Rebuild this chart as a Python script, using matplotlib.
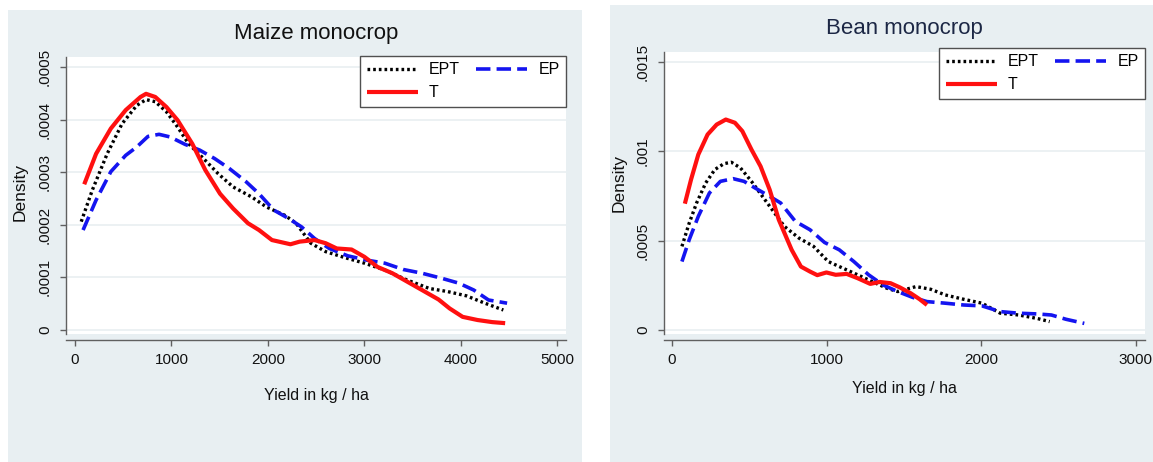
import matplotlib
matplotlib.use("Agg")
import matplotlib.pyplot as plt
import matplotlib.patches as mpatches

plt.rcParams["font.family"] = ["Liberation Sans", "DejaVu Sans"]

# ── Maize monocrop (yield kg/ha, density) ───────────────────────────────────
maize_t_x = [96, 219, 372, 526, 680, 737, 833, 948, 1064, 1217, 1352, 1505,
             1640, 1794, 1909, 2043, 2235, 2331, 2485, 2600, 2715, 2869, 3003,
             3137, 3291, 3445, 3599, 3771, 3886, 4021, 4175, 4328, 4462]
maize_t_y = [2.77, 3.35, 3.83, 4.18, 4.43, 4.49, 4.43, 4.24, 3.99, 3.54, 3.04,
             2.59, 2.31, 2.03, 1.90, 1.71, 1.63, 1.68, 1.71, 1.65, 1.55, 1.53,
             1.39, 1.20, 1.08, 0.92, 0.76, 0.58, 0.41, 0.25, 0.19, 0.15, 0.13]
maize_ept_x = [65, 180, 334, 488, 641, 737, 833, 948, 1064, 1179, 1333, 1486,
               1640, 1832, 1985, 2177, 2293, 2446, 2600, 2792, 3003, 3214, 3445,
               3675, 3867, 4059, 4251, 4443]
maize_ept_y = [2.06, 2.66, 3.35, 3.92, 4.27, 4.38, 4.34, 4.15, 3.86, 3.54, 3.26,
               2.97, 2.72, 2.53, 2.34, 2.18, 2.03, 1.65, 1.49, 1.38, 1.27, 1.14,
               0.95, 0.79, 0.73, 0.65, 0.51, 0.38]
maize_ep_x = [84, 219, 372, 526, 641, 757, 872, 987, 1141, 1294, 1448, 1601,
              1774, 1909, 2062, 2216, 2350, 2485, 2638, 2830, 3022, 3214, 3406,
              3598, 3810, 3982, 4136, 4290, 4482]
maize_ep_y = [1.90, 2.47, 3.01, 3.32, 3.48, 3.68, 3.72, 3.67, 3.53, 3.42, 3.26,
              3.07, 2.82, 2.59, 2.28, 2.12, 1.96, 1.74, 1.55, 1.41, 1.33, 1.27,
              1.15, 1.08, 0.98, 0.89, 0.76, 0.57, 0.51]

# ── Bean monocrop ───────────────────────────────────────────────────────────
bean_t_x = [83, 123, 170, 230, 289, 348, 407, 455, 514, 573, 632, 691, 774,
            834, 893, 940, 999, 1059, 1130, 1201, 1283, 1343, 1414, 1473, 1544,
            1603, 1650]
bean_t_y = [7.07, 8.42, 9.82, 10.94, 11.50, 11.78, 11.60, 11.13, 10.10, 9.16,
            7.85, 6.17, 4.49, 3.55, 3.27, 3.07, 3.22, 3.09, 3.14, 2.90, 2.58,
            2.69, 2.62, 2.39, 2.06, 1.72, 1.40]
bean_ept_x = [64, 111, 159, 218, 277, 336, 384, 443, 514, 585, 656, 727, 822,
              916, 1011, 1106, 1201, 1295, 1390, 1461, 1579, 1674, 1769, 1887,
              2006, 2124, 2243, 2361, 2444]
bean_ept_y = [4.68, 5.98, 7.11, 8.23, 8.98, 9.31, 9.39, 9.07, 8.32, 7.48, 6.64,
              5.80, 5.14, 4.68, 3.83, 3.46, 3.09, 2.71, 2.34, 2.15, 2.43, 2.28,
              1.96, 1.72, 1.50, 0.94, 0.84, 0.65, 0.47]
bean_ep_x = [64, 111, 170, 242, 313, 395, 466, 537, 632, 703, 798, 893, 987,
             1082, 1177, 1272, 1366, 1461, 1556, 1650, 1769, 1887, 2006, 2124,
             2243, 2361, 2455, 2550, 2668]
bean_ep_y = [3.83, 5.05, 6.36, 7.67, 8.32, 8.47, 8.32, 7.95, 7.48, 7.11, 6.08,
             5.61, 4.90, 4.49, 3.83, 3.09, 2.52, 2.15, 1.83, 1.59, 1.50, 1.40,
             1.35, 1.03, 0.94, 0.90, 0.84, 0.60, 0.37]

maize_yticks = [0, 0.0001, 0.0002, 0.0003, 0.0004, 0.0005]
maize_ylabels = ["0", ".0001", ".0002", ".0003", ".0004", ".0005"]
maize_xticks = [0, 1000, 2000, 3000, 4000, 5000]
bean_yticks = [0, 0.0005, 0.001, 0.0015]
bean_ylabels = ["0", ".0005", ".001", ".0015"]
bean_xticks = [0, 1000, 2000, 3000]

W, H = 1153, 462
BG = "#e8eff2"
GRID = "#e9eff1"
RED = "#ff1010"
BLUE = "#1414f0"


def frac(x0, y0, x1, y1):
    """pixel box (top-left origin) -> figure fraction rect."""
    return [x0 / W, 1 - y1 / H, (x1 - x0) / W, (y1 - y0) / H]


fig = plt.figure(figsize=(W / 100, H / 100), dpi=100, facecolor="white")
for box in [(8, 10, 582, 462), (610, 5, 1153, 462)]:
    r = frac(*box)
    fig.patches.append(mpatches.Rectangle((r[0], r[1]), r[2], r[3],
                                          transform=fig.transFigure,
                                          facecolor=BG, edgecolor="none",
                                          zorder=-5))


def draw_panel(rect, title, title_color, series, yticks, ylabels, xticks,
               xlim, ylim, leg_anchor, ylab_xy, xlab_pad):
    ax = fig.add_axes(frac(*rect))
    ax.set_facecolor("white")
    for yv in yticks:
        ax.axhline(yv, color=GRID, lw=1.2, zorder=1)
    (tx, ty), (ex, ey), (px, py) = series
    h_ept, = ax.plot(ex, ey, color="black", lw=2.4, dashes=(0.8, 0.9),
                     label="EPT", zorder=3)
    h_ep, = ax.plot(px, py, color=BLUE, lw=2.6, dashes=(4.0, 1.7),
                    label="EP", zorder=3)
    h_t, = ax.plot(tx, ty, color=RED, lw=3.0, label="T", zorder=4,
                   solid_capstyle="butt")
    ax.set_xlim(*xlim)
    ax.set_ylim(*ylim)
    ax.set_xticks(xticks)
    ax.set_xticklabels([str(v) for v in xticks])
    ax.set_yticks(yticks, ylabels, rotation=90, va="center")
    for s in ["top", "right"]:
        ax.spines[s].set_visible(False)
    ax.spines["bottom"].set_position(("outward", 4.5))
    for s in ["left", "bottom"]:
        ax.spines[s].set_color("#606060")
        ax.spines[s].set_linewidth(1.0)
    ax.tick_params(length=4, width=1, color="#606060", labelsize=11,
                   labelcolor="#111111", pad=5)
    ax.tick_params(axis="y", pad=6)
    ax.set_xlabel("Yield in kg / ha", fontsize=11.5, color="#111111",
                  labelpad=xlab_pad)
    ax.set_ylabel("Density", fontsize=12.5, color="#111111")
    ax.yaxis.set_label_coords(*ylab_xy)
    ax.set_title(title, fontsize=16, color=title_color, pad=13)
    leg = ax.legend(handles=[h_ept, h_t, h_ep], ncol=2, loc="upper right",
                    bbox_to_anchor=leg_anchor, fontsize=11.5,
                    handlelength=3.2, handletextpad=0.7, columnspacing=1.0,
                    labelspacing=0.5, borderpad=0.4, borderaxespad=0,
                    fancybox=False, framealpha=1, edgecolor="#505050")
    leg.get_frame().set_linewidth(1.0)
    return ax


maize = ((maize_t_x, [v * 1e-4 for v in maize_t_y]),
         (maize_ept_x, [v * 1e-4 for v in maize_ept_y]),
         (maize_ep_x, [v * 1e-4 for v in maize_ep_y]))
bean = ((bean_t_x, [v * 1e-4 for v in bean_t_y]),
        (bean_ept_x, [v * 1e-4 for v in bean_ept_y]),
        (bean_ep_x, [v * 1e-4 for v in bean_ep_y]))

draw_panel((66, 57, 566, 334), "Maize monocrop", "#111111", maize,
           maize_yticks, maize_ylabels, maize_xticks,
           (-93, 5093), (-0.0000076, 0.000519), (1.0, 1.004),
           (-0.076, 0.513), 15)
draw_panel((664, 52, 1145, 334), "Bean monocrop", "#1c2745", bean,
           bean_yticks, bean_ylabels, bean_xticks,
           (-52, 3061), (-0.0000224, 0.001556), (1.0, 1.014),
           (-0.077, 0.535), 10)

fig.savefig("out.png", dpi=100, facecolor="white")
